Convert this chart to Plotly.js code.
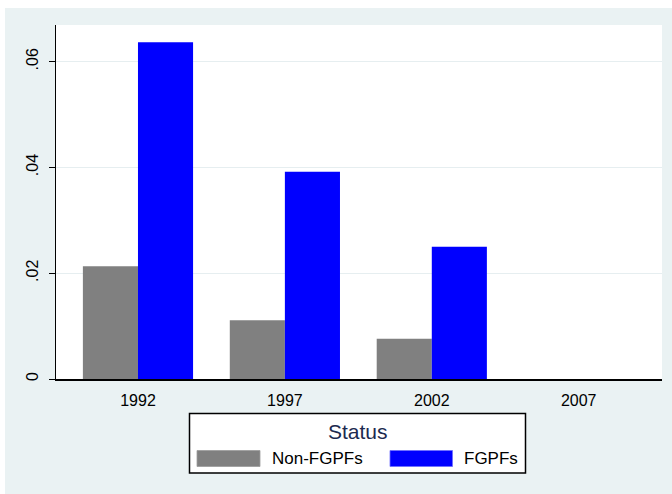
<!DOCTYPE html>
<html>
<head>
<meta charset="utf-8">
<script src="https://cdn.plot.ly/plotly-3.0.1.min.js"></script>
<style>html,body{margin:0;padding:0;background:#fff;}#chart{width:672px;height:494px;}</style>
</head>
<body>
<div id="chart"></div>
<script>
var years = ['1992', '1997', '2002', '2007'];
var nonFGPFs = [0.0213, 0.0111, 0.0076, 0];
var fgpfs = [0.0637, 0.0392, 0.0250, 0];
var yTickVals = [0, 0.02, 0.04, 0.06];
var yTickText = ['0', '.02', '.04', '.06'];
var seriesNames = ['Non-FGPFs', 'FGPFs'];
var legendTitle = 'Status';

var W = 672, H = 494, L = 56, R = 10, T = 25, B = 115;
var pw = W - L - R, ph = H - T - B;
function px(x) { return (x - L) / pw; }
function py(y) { return (H - B - y) / ph; }

var font = 'Liberation Sans, Arial, sans-serif';
var bg = '#EAF2F3';

var traces = [
  {type: 'bar', x: years, y: nonFGPFs, name: seriesNames[0],
   marker: {color: '#808080', line: {width: 0}}, showlegend: false, hoverinfo: 'skip'},
  {type: 'bar', x: years, y: fgpfs, name: seriesNames[1],
   marker: {color: '#0000FF', line: {width: 0}}, showlegend: false, hoverinfo: 'skip'}
];

var shapes = [
  {type: 'rect', xref: 'paper', yref: 'paper', x0: px(-2), x1: px(W + 2), y0: py(8), y1: py(-2), fillcolor: '#ffffff', line: {width: 0}, layer: 'below'},
  {type: 'rect', xref: 'paper', yref: 'paper', x0: px(-2), x1: px(5), y0: py(H + 2), y1: py(-2), fillcolor: '#ffffff', line: {width: 0}, layer: 'below'},
  {type: 'rect', xref: 'paper', yref: 'paper', x0: px(189.5), x1: px(525.5), y0: py(473), y1: py(413.5), fillcolor: '#ffffff', line: {color: '#000000', width: 1.5}},
  {type: 'rect', xref: 'paper', yref: 'paper', x0: px(197), x1: px(260), y0: py(466.5), y1: py(450.5), fillcolor: '#808080', line: {color: '#9c9c9c', width: 0.8}},
  {type: 'rect', xref: 'paper', yref: 'paper', x0: px(390), x1: px(452.5), y0: py(466.5), y1: py(450.5), fillcolor: '#0000FF', line: {color: '#6f6fff', width: 0.8}}
];

var annotations = [
  {xref: 'paper', yref: 'paper', x: px(357.5), y: py(432), text: legendTitle, showarrow: false, xanchor: 'center', yanchor: 'middle', font: {family: font, size: 21, color: '#1c2a4f'}},
  {xref: 'paper', yref: 'paper', x: px(270), y: py(459), text: seriesNames[0], showarrow: false, xanchor: 'left', yanchor: 'middle', font: {family: font, size: 17, color: '#000'}},
  {xref: 'paper', yref: 'paper', x: px(462), y: py(459), text: seriesNames[1], showarrow: false, xanchor: 'left', yanchor: 'middle', font: {family: font, size: 17, color: '#000'}}
];

var layout = {
  width: W, height: H,
  margin: {l: L, r: R, t: T, b: B, pad: 0},
  paper_bgcolor: bg,
  plot_bgcolor: '#ffffff',
  barmode: 'group',
  bargap: 0.25,
  bargroupgap: 0,
  font: {family: font, size: 16, color: '#000'},
  xaxis: {
    type: 'category', range: [-0.558, 3.567], fixedrange: true,
    showgrid: false, zeroline: false, showline: true, linecolor: '#000', linewidth: 1.5,
    ticks: '', tickfont: {family: font, size: 16, color: '#000'}, ticklabelstandoff: 6
  },
  yaxis: {
    range: [0, 0.06694], fixedrange: true,
    tickvals: yTickVals, ticktext: yTickText, tickangle: -90,
    ticks: 'outside', ticklen: 6, tickcolor: '#000', tickwidth: 1,
    showgrid: true, gridcolor: '#E6EEF0', gridwidth: 1,
    zeroline: false, showline: true, linecolor: '#000', linewidth: 1.5,
    tickfont: {family: font, size: 16, color: '#000'}, ticklabelstandoff: 4
  },
  shapes: shapes,
  annotations: annotations,
  showlegend: false
};

Plotly.newPlot('chart', traces, layout, {displayModeBar: false, staticPlot: true});
</script>
</body>
</html>
